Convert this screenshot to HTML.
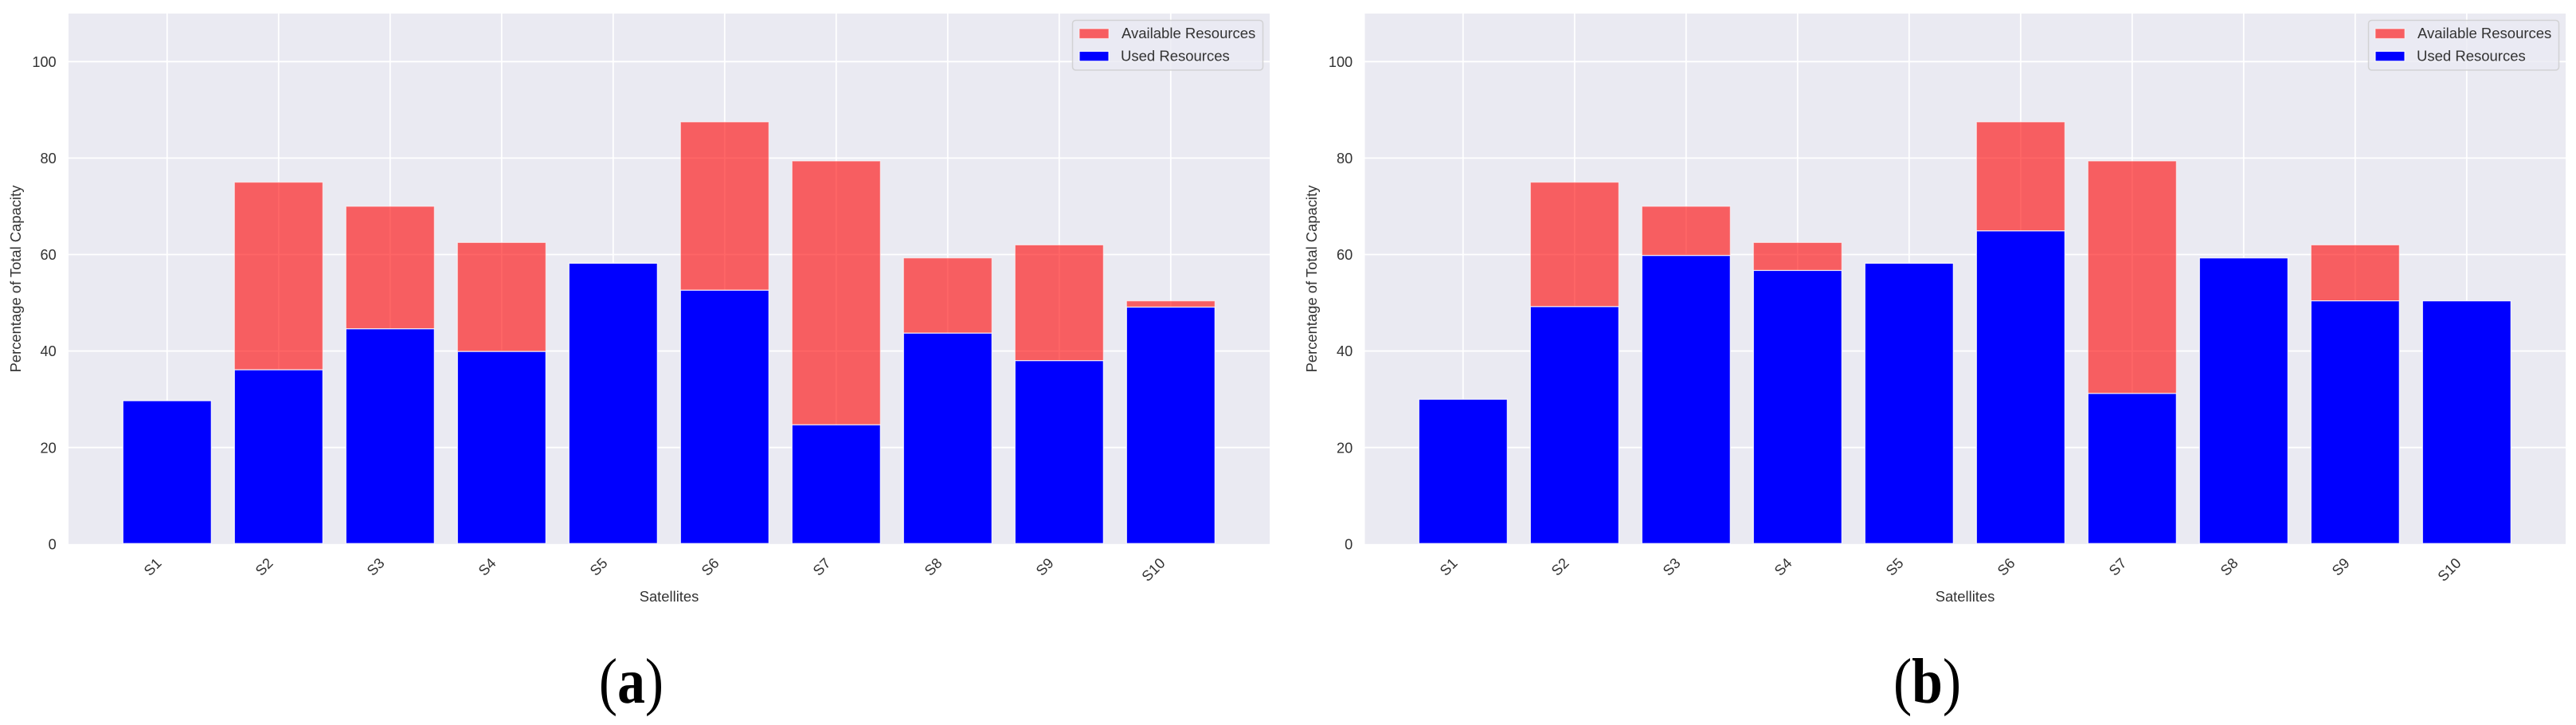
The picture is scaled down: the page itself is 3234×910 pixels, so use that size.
<!DOCTYPE html>
<html lang="en">
<head>
<meta charset="utf-8">
<title>Satellite resource usage charts</title>
<style>
  html, body { margin: 0; padding: 0; background: #ffffff; }
  body { width: 3234px; height: 910px; overflow: hidden; }
  svg { display: block; }
  text { font-family: "Liberation Sans", Arial, sans-serif; fill: #333333; }
  .tick { font-size: 18.2px; }
  .title { font-size: 18.4px; }
  .legend-text { font-size: 18.5px; }
  .caption { font-family: "Liberation Serif", "Times New Roman", serif; font-size: 80px; fill: #000000; }
</style>
</head>
<body>
<svg id="figure" xmlns="http://www.w3.org/2000/svg" width="3234" height="910" viewBox="0 0 3234 910">
  <rect x="0" y="0" width="3234" height="910" fill="#ffffff"/>

  <g id="panel-a">
    <rect x="86" y="17" width="1508" height="665.8" fill="#eaeaf2"/>
    <g id="grid-a"></g>
    <g id="bars-a"></g>
    <g id="ticks-a"></g>
    <text class="title" x="840" y="755" text-anchor="middle">Satellites</text>
    <text class="title" transform="translate(26 350) rotate(-90)" text-anchor="middle">Percentage of Total Capacity</text>
    <g>
      <rect x="1346.5" y="25.5" width="239" height="62.5" rx="4" fill="#eaeaf2" fill-opacity="0.8" stroke="#cccccc" stroke-opacity="0.8" stroke-width="1.5"/>
      <rect x="1355" y="36" width="37" height="12.4" fill="#ff0000" fill-opacity="0.6" stroke="#ffffff" stroke-opacity="0.6" stroke-width="1"/>
      <text class="legend-text" x="1408" y="48">Available Resources</text>
      <rect x="1355" y="64.4" width="37" height="12.4" fill="#0000ff" stroke="#ffffff" stroke-width="1"/>
      <text class="legend-text" x="1407" y="76.5">Used Resources</text>
    </g>
    <text class="caption" transform="translate(792.5 882) scale(0.87 1)" text-anchor="middle">(<tspan font-weight="700">a</tspan>)</text>
  </g>

  <g id="panel-b">
    <rect x="1713.5" y="17" width="1507.5" height="665.8" fill="#eaeaf2"/>
    <g id="grid-b"></g>
    <g id="bars-b"></g>
    <g id="ticks-b"></g>
    <text class="title" x="2467" y="755" text-anchor="middle">Satellites</text>
    <text class="title" transform="translate(1653 350) rotate(-90)" text-anchor="middle">Percentage of Total Capacity</text>
    <g>
      <rect x="2973.5" y="25.5" width="239" height="62.5" rx="4" fill="#eaeaf2" fill-opacity="0.8" stroke="#cccccc" stroke-opacity="0.8" stroke-width="1.5"/>
      <rect x="2982" y="36" width="37" height="12.4" fill="#ff0000" fill-opacity="0.6" stroke="#ffffff" stroke-opacity="0.6" stroke-width="1"/>
      <text class="legend-text" x="3035" y="48">Available Resources</text>
      <rect x="2982" y="64.4" width="37" height="12.4" fill="#0000ff" stroke="#ffffff" stroke-width="1"/>
      <text class="legend-text" x="3034" y="76.5">Used Resources</text>
    </g>
    <text class="caption" transform="translate(2419.5 882) scale(0.87 1)" text-anchor="middle">(<tspan font-weight="700">b</tspan>)</text>
  </g>
</svg>

<script>
const categories = ['S1', 'S2', 'S3', 'S4', 'S5', 'S6', 'S7', 'S8', 'S9', 'S10'];
const yTickValues = [0, 20, 40, 60, 80, 100];
const totalA = [29.7, 75, 70, 62.5, 58.2, 87.5, 79.4, 59.3, 62, 50.4];
const usedA = [29.7, 36.1, 44.6, 39.9, 58.2, 52.6, 24.7, 43.7, 38, 49.1];
const totalB = [30, 75, 70, 62.5, 58.2, 87.5, 79.4, 59.3, 62, 50.4];
const usedB = [30, 49.2, 59.8, 56.7, 58.2, 64.9, 31.2, 59.3, 50.4, 50.4];

const SVG_NS = 'http://www.w3.org/2000/svg';
const plotTop = 17;
const plotBottom = 682.8;
const pxPerUnitY = 6.055;
const firstCenter = 209.8;
const pxPerCategory = 140;
const barWidth = 111;

function yScale(value) {
  return plotBottom - value * pxPerUnitY;
}
function xScale(index, dx) {
  return dx + firstCenter + index * pxPerCategory;
}
function make(tag, attrs) {
  const el = document.createElementNS(SVG_NS, tag);
  for (const k in attrs) el.setAttribute(k, attrs[k]);
  return el;
}

function drawPanel(id, dx, plotLeft, plotRight, total, used) {
  const grid = document.getElementById('grid-' + id);
  const bars = document.getElementById('bars-' + id);
  const ticks = document.getElementById('ticks-' + id);

  yTickValues.forEach(function (v) {
    const y = yScale(v);
    if (v > 0) {
      const line = make('line', { x1: plotLeft, x2: plotRight, y1: y, y2: y, stroke: '#ffffff', 'stroke-width': 1.8 });
      
      
      grid.appendChild(line);
    }
    const label = make('text', { x: plotLeft - 15.3, y: y + 6.6, 'text-anchor': 'end', class: 'tick' });
    label.textContent = String(v);
    
    
    ticks.appendChild(label);
  });

  categories.forEach(function (cat, i) {
    const cx = xScale(i, dx);
    const line = make('line', { x1: cx, x2: cx, y1: plotTop, y2: plotBottom, stroke: '#ffffff', 'stroke-width': 1.8 });
    
    
    grid.appendChild(line);

    const usedTop = yScale(used[i]);
    const totalTop = yScale(total[i]);

    const redHeight = Math.max(0, usedTop - totalTop);
    const red = make('rect', {
      x: cx - barWidth / 2, y: totalTop, width: barWidth, height: redHeight,
      fill: '#ff0000', 'fill-opacity': 0.6, stroke: '#ffffff', 'stroke-opacity': 0.6, 'stroke-width': 1.2
    });
    
    
    bars.appendChild(red);

    const blue = make('rect', {
      x: cx - barWidth / 2, y: usedTop, width: barWidth, height: Math.max(0, yScale(0) - usedTop - 0.6),
      fill: '#0000ff', stroke: '#ffffff', 'stroke-opacity': 0.85, 'stroke-width': 1.2
    });
    
    
    bars.appendChild(blue);

    const label = make('text', {
      transform: 'translate(' + (cx - 6) + ' 708) rotate(-45)',
      'text-anchor': 'end', class: 'tick'
    });
    label.textContent = cat;
    
    
    ticks.appendChild(label);
  });
}

drawPanel('a', 0, 86, 1594, totalA, usedA);
drawPanel('b', 1627, 1713.5, 3221, totalB, usedB);
</script>
</body>
</html>
